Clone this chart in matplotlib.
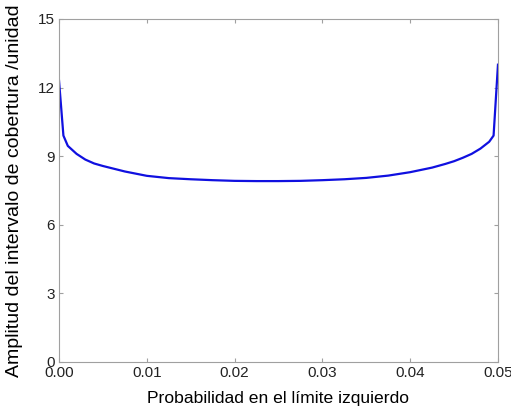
import numpy as np
import matplotlib
matplotlib.use("Agg")
import matplotlib.pyplot as plt

plt.rcParams['font.family'] = ['Liberation Sans', 'DejaVu Sans']

# probability in the left tail vs width of the coverage interval
prob = [0.0, 0.0005, 0.001, 0.002, 0.003, 0.004, 0.005, 0.0075, 0.01,
        0.0125, 0.015, 0.0175, 0.02, 0.0225, 0.025, 0.0275, 0.03, 0.0325,
        0.035, 0.0375, 0.04, 0.0425, 0.044, 0.045, 0.046, 0.047, 0.048,
        0.049, 0.0495, 0.05]
width = [12.3, 9.9, 9.45, 9.1, 8.85, 8.68, 8.57, 8.33, 8.14,
         8.04, 7.99, 7.95, 7.92, 7.91, 7.91, 7.92, 7.95, 7.99,
         8.05, 8.15, 8.3, 8.5, 8.66, 8.78, 8.93, 9.1, 9.33,
         9.63, 9.9, 13.0]

xticks = [0.0, 0.01, 0.02, 0.03, 0.04, 0.05]
xticklabels = ['0.00', '0.01', '0.02', '0.03', '0.04', '0.05']
yticks = [0, 3, 6, 9, 12, 15]

fig = plt.figure(figsize=(5.11, 4.12), dpi=100)
ax = fig.add_axes([0.1155, 0.1214, 0.859, 0.8326])

ax.plot(prob, width, color='#1010e0', lw=1.6)

ax.set_xlim(0, 0.05)
ax.set_ylim(0, 15)
ax.set_xticks(xticks)
ax.set_xticklabels(xticklabels)
ax.set_yticks(yticks)

for s in ax.spines.values():
    s.set_color('#a0a0a0')
    s.set_linewidth(0.8)
ax.tick_params(direction='in', length=3, color='#a0a0a0', labelsize=11,
               labelcolor='#222222', top=True, right=True, pad=3)

ax.set_xlabel('Probabilidad en el límite izquierdo', fontsize=12.6, labelpad=8)
ax.set_ylabel('Amplitud del intervalo de cobertura /unidad', fontsize=14, labelpad=4)
ax.yaxis.set_label_coords(-0.082, 0.5)

fig.savefig('out.png', dpi=100)
